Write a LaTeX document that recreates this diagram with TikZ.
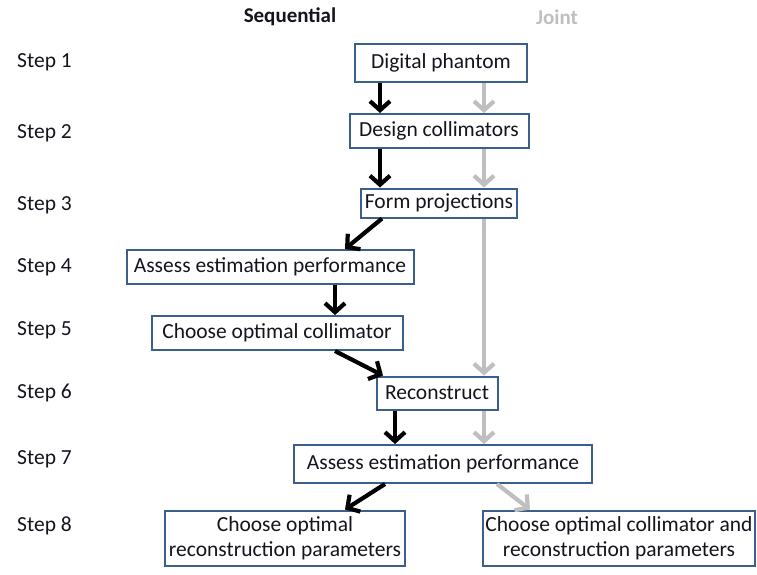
\documentclass[tikz,border=0pt]{standalone}
\usepackage{fontspec}
\setmainfont{Carlito}
\usetikzlibrary{arrows.meta}
\definecolor{boxblue}{HTML}{3A5F8C}
\definecolor{jointgray}{HTML}{BFBFBF}
\definecolor{txt}{HTML}{14141E}

\begin{document}
\begin{tikzpicture}[x=1pt, y=-1pt,
	font=\fontsize{21.5}{25}\selectfont, text=txt,
	stepbox/.style={draw=boxblue, line width=2pt, fill=white, inner sep=2pt, align=center},
	steplabel/.style={anchor=west, inner sep=0pt},
	seqarrow/.style={line width=4.2pt, black, -{Straight Barb[length=9pt, width=20pt]}},
	jntarrow/.style={line width=4.2pt, jointgray, -{Straight Barb[length=9pt, width=20pt]}}]
	
	\useasboundingbox (0,0) rectangle (757,574);
	
	%column headings
	\node[font=\fontsize{21}{25}\selectfont\bfseries] (hseq) at (290,17){Sequential};
	\node[font=\fontsize{21}{25}\selectfont\bfseries, text=jointgray] (hjnt) at (557,17){Joint};
	
	%step labels
	\node[steplabel] (s1) at (17,62){Step 1};
	\node[steplabel] (s2) at (17,133){Step 2};
	\node[steplabel] (s3) at (17,205){Step 3};
	\node[steplabel] (s4) at (17,267){Step 4};
	\node[steplabel] (s5) at (17,330){Step 5};
	\node[steplabel] (s6) at (17,393){Step 6};
	\node[steplabel] (s7) at (17,459){Step 7};
	\node[steplabel] (s8) at (17,526){Step 8};
	
	%boxes
	\node[stepbox, minimum width=172, minimum height=38] (phantom) at (441,63){Digital phantom};
	\node[stepbox, minimum width=179, minimum height=34] (collim) at (439,131){Design collimators};
	\node[stepbox, minimum width=156, minimum height=29] (proj) at (439,203){Form projections};
	\node[stepbox, minimum width=287, minimum height=34] (assessA) at (270,267){Assess estimation performance};
	\node[stepbox, minimum width=251, minimum height=34] (choosecol) at (277,333){Choose optimal collimator};
	\node[stepbox, minimum width=121, minimum height=33] (recon) at (437,393){Reconstruct};
	\node[stepbox, minimum width=298, minimum height=38] (assessB) at (443,464){Assess estimation performance};
	\node[stepbox, minimum width=240, minimum height=55] (chooserec) at (285,538){Choose optimal\\reconstruction parameters};
	\node[stepbox, minimum width=271, minimum height=55] (choosejnt) at (619,538){Choose optimal collimator and\\reconstruction parameters};
	
	%arrow columns
	\coordinate (seq) at (380,0);
	\coordinate (jnt) at (484,0);
	
	%sequential path
	\draw[seqarrow] (phantom.south -| seq) -- (collim.north -| seq);
	\draw[seqarrow] (collim.south -| seq) -- (proj.north -| seq);
	\draw[seqarrow] ([xshift=-57]proj.south) -- ([xshift=75]assessA.north);
	\draw[seqarrow] ([xshift=65]assessA.south) -- ([xshift=65]assessA.south |- choosecol.north);
	\draw[seqarrow] ([xshift=58]choosecol.south) -- ([xshift=-54]recon.north);
	\draw[seqarrow] ([xshift=-42]recon.south) -- ([xshift=-42]recon.south |- assessB.north);
	\draw[seqarrow] ([xshift=-58]assessB.south) -- ([xshift=60]chooserec.north);
	
	%joint path
	\draw[jntarrow] (phantom.south -| jnt) -- (collim.north -| jnt);
	\draw[jntarrow] (collim.south -| jnt) -- (proj.north -| jnt);
	\draw[jntarrow] (proj.south -| jnt) -- (recon.north -| jnt);
	\draw[jntarrow] (recon.south -| jnt) -- (assessB.north -| jnt);
	\draw[jntarrow] ([xshift=54]assessB.south) -- ([xshift=-89]choosejnt.north);
	
\end{tikzpicture}
\end{document}
